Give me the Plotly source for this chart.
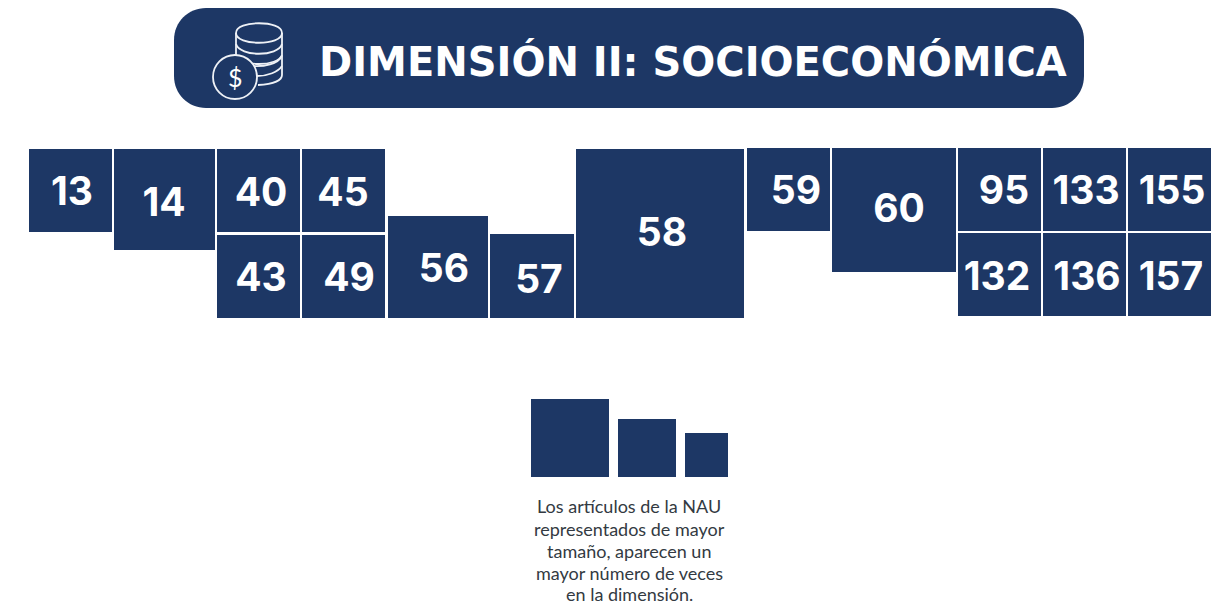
import plotly.graph_objects as go

NAVY = "#1d3765"
WIDTH, HEIGHT = 1224, 605

# article boxes
labels = ["13","14","40","45","43","49","56","57","58","59","60","95","133","155","132","136","157"]
left   = [29,114,217,302,217,302,388,490,576,747,832,958,1043,1128,958,1043,1128]
right  = [112,215,300,385,300,385,488,574,744,830,956,1041,1126,1211,1041,1126,1211]
top    = [149,149,149,149,235,235,216,234,149,148,148,148,148,148,233,233,233]
bottom = [232,250,232,232,318,318,318,318,318,231,272,231,231,231,316,316,316]
label_x = [72,164,261,343,261,349,444,539,662,796,899,1004,1086,1172,997,1087,1171]
label_y = [195,206,196,196,281,281,272,283,236,194,212,194,194,194,280,280,280]

# size key
key_left   = [531,618,685]
key_right  = [609,676,728]
key_top    = [399,419,433]
key_bottom = [477,477,477]

title_text = "DIMENSIÓN II: SOCIOECONÓMICA"
note_lines = ["Los artículos de la NAU","representados de mayor","tamaño, aparecen un","mayor número de veces","en la dimensión."]
note_y = [506,529,551,573,594]

def bar(l, r, t, b):
    return go.Bar(
        x=[(a + c) / 2 for a, c in zip(l, r)],
        width=[c - a for a, c in zip(l, r)],
        base=t,
        y=[d - a for a, d in zip(t, b)],
        marker=dict(color=NAVY, line=dict(width=0)),
        hoverinfo="skip", showlegend=False,
    )

fig = go.Figure()
fig.add_trace(bar(left, right, top, bottom))
fig.add_trace(bar(key_left, key_right, key_top, key_bottom))
fig.add_trace(go.Scatter(
    x=label_x, y=label_y, mode="text", text=labels,
    textfont=dict(family="Inter", size=39, color="white", weight=700),
    textposition="middle center", hoverinfo="skip", showlegend=False,
))

shapes = [dict(type="path", xref="x", yref="y", layer="below", line=dict(width=0), fillcolor=NAVY,
               path="M 206 8 L 1052 8 C 1070 8 1084 22 1084 40 L 1084 76 C 1084 94 1070 108 1052 108 "
                    "L 206 108 C 188 108 174 94 174 76 L 174 40 C 174 22 188 8 206 8 Z")]
ICON = dict(color="#eef1f6", width=1.8)
# coin stack
icon_paths = [
    "M 236 33 C 236 20 282 20 282 33 C 282 46 236 46 236 33 Z",
    "M 236 33 L 236 56",
    "M 282 33 L 282 75 C 282 80 274 84 258 85",
    "M 236 44 C 240 57 278 57 282 44",
    "M 236 55 C 240 67 278 67 282 55",
    "M 252 66 C 264 67 278 64 282 56",
    "M 257 76 C 268 76 278 72 282 66",
]
for p in icon_paths:
    shapes.append(dict(type="path", xref="x", yref="y", path=p, line=ICON, layer="above"))
shapes.append(dict(type="circle", xref="x", yref="y", x0=213, x1=257, y0=55, y1=99,
                   line=ICON, fillcolor=NAVY, layer="above"))

annotations = [dict(x=692.5, y=61, xref="x", yref="y", text=title_text, showarrow=False,
                    font=dict(family="DejaVu Sans", size=40, color="white", weight=700)),
               dict(x=235, y=77, xref="x", yref="y", text="$", showarrow=False,
                    font=dict(family="Lato", size=25, color="white"))]
for line, y in zip(note_lines, note_y):
    annotations.append(dict(x=629, y=y, xref="x", yref="y", text=line, showarrow=False,
                            font=dict(family="Lato", size=18, color="#333a42")))

fig.update_layout(
    width=WIDTH, height=HEIGHT, margin=dict(l=0, r=0, t=0, b=0),
    paper_bgcolor="white", plot_bgcolor="white", barmode="overlay",
    xaxis=dict(range=[0, WIDTH], visible=False, fixedrange=True),
    yaxis=dict(range=[HEIGHT, 0], visible=False, fixedrange=True),
    shapes=shapes, annotations=annotations,
)
fig.write_html("out.html", config=dict(displayModeBar=False),
               post_script="document.body.style.margin='0';")
